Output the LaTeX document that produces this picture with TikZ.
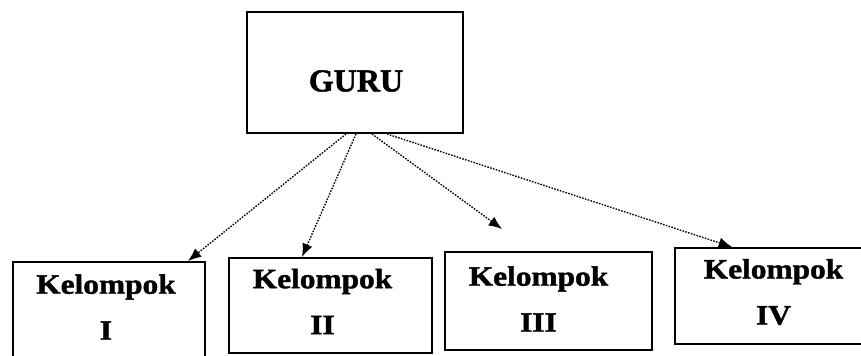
\documentclass[tikz,border=0pt]{standalone}
\usepackage{fontspec}
\setmainfont{Liberation Serif}
\newfontfamily\groupfont[FakeStretch=1.12,FakeBold=1.5]{Liberation Serif}
\newfontfamily\gurufont[FakeBold=1.5]{Liberation Serif}
\usetikzlibrary{arrows.meta,calc}

\tikzset{
  boxframe/.style={draw, line width=1.5pt, inner sep=0pt},
  guruname/.style={font=\gurufont\fontsize{24}{28}\selectfont\bfseries},
  groupname/.style={align=center, inner sep=0pt,
    font=\groupfont\fontsize{21}{34.5}\selectfont\bfseries},
  link/.style={line width=1pt, dash pattern=on 1.2pt off 1pt,
    -{Latex[length=10pt,width=8pt]}}
}

\begin{document}
\begin{tikzpicture}[x=0.75pt,y=-0.75pt]
\useasboundingbox (0,0) rectangle (861,356);

% teacher box
\node[boxframe, minimum width=162pt, minimum height=90.75pt] (guru) at (355,72.5) {};
\node[guruname] (gurutext) at (356,81) {GURU};

% group boxes
\node[boxframe, minimum width=144pt, minimum height=73.5pt] (k1) at (109,311) {};
\node[boxframe, minimum width=152.25pt, minimum height=71.25pt] (k2) at (330.5,305.5) {};
\node[boxframe, minimum width=155.25pt, minimum height=73.5pt] (k3) at (548.5,301) {};
\node[boxframe, minimum width=144.75pt, minimum height=72pt] (k4) at (771.5,296) {};

\node[groupname] (k1t) at ($(k1)+(-3,-4)$) {Kelompok\\I};
\node[groupname] (k2t) at ($(k2)+(-8,-4)$) {Kelompok\\II};
\node[groupname] (k3t) at ($(k3)+(-10,-2)$) {Kelompok\\III};
\node[groupname] (k4t) at ($(k4)+(2,-4)$) {Kelompok\\IV};

% starting points along the bottom edge of the teacher box
\coordinate (s1) at ($(guru.south west)+(100,0)$);
\coordinate (s2) at ($(guru.south west)+(110,0)$);
\coordinate (s3) at ($(guru.south west)+(126,0)$);
\coordinate (s4) at ($(guru.south west)+(141,0)$);
\coordinate (e3) at (502,229);

\draw[link] (s1) -- (k1.north -| 188,0);
\draw[link] (s2) -- (k2.north -| 302,0);
\draw[link] (s3) -- (e3);
\draw[link] (s4) -- ($(k4.north west)+(58,0)$);
\end{tikzpicture}
\end{document}
